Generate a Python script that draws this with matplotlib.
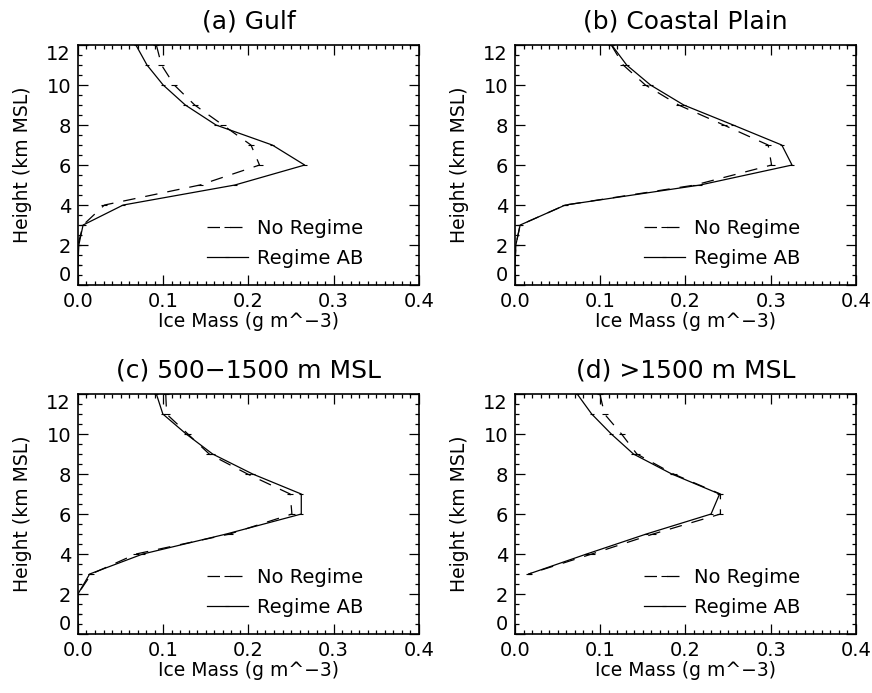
import matplotlib.pyplot as plt
from matplotlib.ticker import MultipleLocator

# height levels (km MSL)
height = [12, 11, 10, 9, 8, 7, 6, 5, 4, 3, 2, 1, 0]
height_d = [12, 11, 10, 9, 8, 7, 6, 5, 4, 3]

# ice mass (g m^-3) for each region
gulf_none = [0.092, 0.098, 0.113, 0.137, 0.170, 0.203, 0.213, 0.143, 0.031, 0.006, 0.0, 0.0, 0.0]
gulf_ab = [0.068, 0.081, 0.100, 0.126, 0.162, 0.228, 0.266, 0.184, 0.053, 0.006, 0.001, 0.0, 0.0]

coast_none = [0.113, 0.127, 0.153, 0.192, 0.245, 0.297, 0.301, 0.211, 0.059, 0.006, 0.001, 0.0, 0.0]
coast_ab = [0.1135, 0.131, 0.159, 0.198, 0.256, 0.313, 0.325, 0.217, 0.059, 0.006, 0.001, 0.0, 0.0]

mid_none = [0.103, 0.104, 0.129, 0.154, 0.199, 0.249, 0.251, 0.178, 0.068, 0.0156, 0.0, 0.0, 0.0]
mid_ab = [0.092, 0.0996, 0.127, 0.158, 0.205, 0.262, 0.262, 0.174, 0.076, 0.0137, 0.0, 0.0, 0.0]

high_none = [0.0996, 0.105, 0.125, 0.143, 0.186, 0.241, 0.241, 0.162, 0.090, 0.016]
high_ab = [0.073, 0.090, 0.113, 0.139, 0.184, 0.240, 0.230, 0.154, 0.084, 0.016]

titles = ["(a) Gulf", "(b) Coastal Plain", "(c) 500\u22121500 m MSL", "(d) >1500 m MSL"]
series = [(height, gulf_none, gulf_ab), (height, coast_none, coast_ab),
          (height, mid_none, mid_ab), (height_d, high_none, high_ab)]

plt.rcParams['font.family'] = 'DejaVu Sans'

fig = plt.figure(figsize=(8.72, 6.93), dpi=100)
boxes = [[0.0894, 0.5887, 0.391, 0.3463], [0.5906, 0.5887, 0.391, 0.3463],
         [0.0894, 0.0851, 0.391, 0.3463], [0.5906, 0.0851, 0.391, 0.3463]]

for box, title, (h, none, ab) in zip(boxes, titles, series):
    ax = fig.add_axes(box)
    ax.plot(none, h, color='black', lw=0.9, ls=(0, (10, 8)),
            marker='_', markersize=5, markeredgewidth=0.8, label='No Regime')
    ax.plot(ab, h, color='black', lw=0.9, ls='-',
            marker='_', markersize=3, markeredgewidth=0.8, label='Regime AB')
    ax.set_xticks([0.0, 0.1, 0.2, 0.3, 0.4])
    ax.set_xticklabels(['0.0', '0.1', '0.2', '0.3', '0.4'])
    ax.set_yticks(range(0, 13, 2))
    ax.xaxis.set_minor_locator(MultipleLocator(0.01))
    ax.yaxis.set_minor_locator(MultipleLocator(0.5))
    ax.tick_params(which='both', direction='in', top=True, right=True,
                   labelsize=14, width=0.9)
    ax.tick_params(which='major', length=7, pad=5)
    ax.tick_params(which='minor', length=3)
    # keep the end labels inside the axis range
    ylabels = ax.get_yticklabels()
    ylabels[0].set_verticalalignment('bottom')
    ylabels[-1].set_verticalalignment('top')
    ax.set_xlim(0, 0.4)
    ax.set_ylim(0, 12)
    for s in ax.spines.values():
        s.set_linewidth(1.2)
    ax.set_title(title, fontsize=18, pad=12)
    ax.set_xlabel('Ice Mass (g m^\u22123)', fontsize=13.5, labelpad=1)
    ax.set_ylabel('Height (km MSL)', fontsize=13.5, labelpad=10)
    ax.legend(loc='upper left', frameon=False, fontsize=14,
              handlelength=2.1, handletextpad=0.5, labelspacing=0.55,
              borderpad=0, borderaxespad=0,
              bbox_to_anchor=(0.378, 0.275))

plt.savefig('out.png', dpi=100)
